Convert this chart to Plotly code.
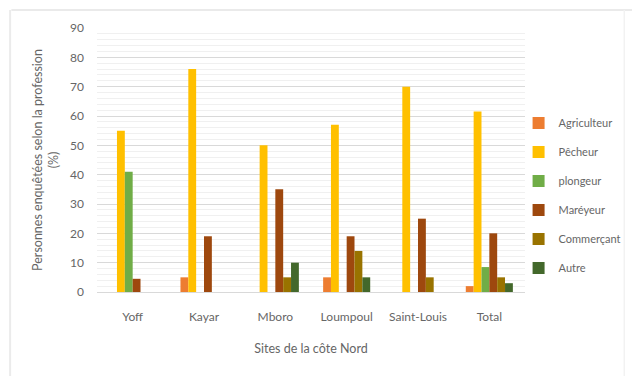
import plotly.graph_objects as go

sites = ["Yoff", "Kayar", "Mboro", "Loumpoul", "Saint-Louis", "Total"]
professions = ["Agriculteur", "Pêcheur", "plongeur", "Maréyeur", "Commerçant", "Autre"]
agriculteur = [0, 5, 0, 5, 0, 2]
pecheur = [55, 76, 50, 57, 70, 61.5]
plongeur = [41, 0, 0, 0, 0, 8.5]
mareyeur = [4.5, 19, 35, 19, 25, 20]
commercant = [0, 0, 5, 14, 5, 5]
autre = [0, 0, 10, 5, 0, 3]
series = [agriculteur, pecheur, plongeur, mareyeur, commercant, autre]
colors = ["#ED7D31", "#FFC000", "#70AD47", "#9E480E", "#997300", "#43682B"]

font_family = "Lato, 'Open Sans', sans-serif"
grey = "#666666"

fig = go.Figure()
for name, vals, col in zip(professions, series, colors):
    fig.add_trace(go.Bar(x=sites, y=vals, name=name, marker_color=col,
                         marker_line_width=0, legendgroup=name))

fig.update_layout(
    width=638, height=376,
    margin=dict(l=97, r=106, t=28, b=84),
    paper_bgcolor="white", plot_bgcolor="white",
    barmode="group", bargap=0.34, bargroupgap=0,
    font=dict(family=font_family, color=grey, size=12),
    legend=dict(x=0.985, xanchor="left", y=0.695, yanchor="top",
                font=dict(size=11, color=grey), tracegroupgap=10,
                traceorder="grouped", itemwidth=30, bgcolor="rgba(0,0,0,0)"),
    shapes=[
        dict(type="line", xref="paper", yref="paper", x0=-0.2, x1=1.25,
             y0=1.068, y1=1.068, line=dict(color="#E3E3E3", width=1.5)),
        dict(type="line", xref="paper", yref="paper", x0=-0.203, x1=-0.203,
             y0=1.068, y1=-0.33, line=dict(color="#EBEBEB", width=2)),
        dict(type="line", xref="paper", yref="paper", x0=1.232, x1=1.232,
             y0=1.068, y1=-0.33, line=dict(color="#F2F2F2", width=1.5)),
    ],
)
fig.update_xaxes(showline=True, linecolor="#D9D9D9", linewidth=1,
                 tickfont=dict(size=12, color=grey), ticks="", ticklabelstandoff=14,
                 title=dict(text="Sites de la côte Nord", font=dict(size=12.5, color=grey), standoff=20))
fig.update_yaxes(range=[0, 90], dtick=10, showgrid=True, gridcolor="#D9D9D9",
                 gridwidth=1, zeroline=False,
                 minor=dict(dtick=2, showgrid=True, gridcolor="#F0F0F0", gridwidth=1),
                 tickfont=dict(size=12, color=grey), ticks="", ticklabelstandoff=12,
                 title=dict(text="Personnes enquêtées selon la profession<br>(%)",
                            font=dict(size=12.5, color=grey), standoff=8))

fig.write_html("out.html")
